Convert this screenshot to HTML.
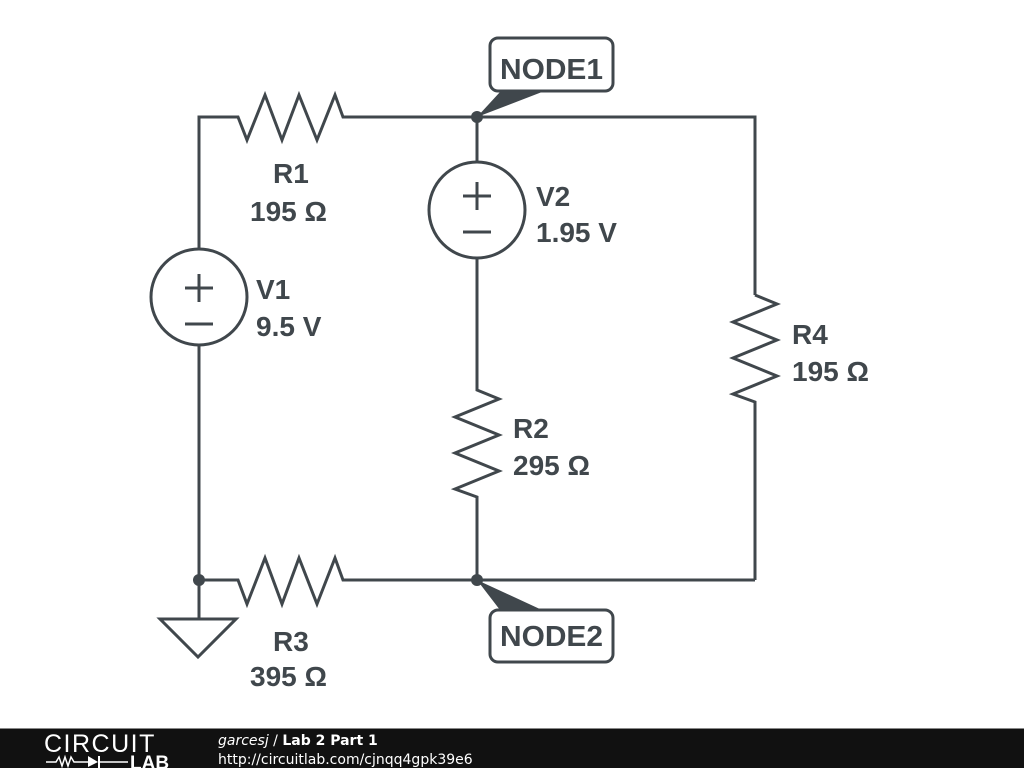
<!DOCTYPE html>
<html><head><style>
html,body{margin:0;padding:0;background:#fff;}
body{width:1024px;height:768px;overflow:hidden;position:relative;font-family:"Liberation Sans",sans-serif;}
</style></head><body>
<svg width="1024" height="768" viewBox="0 0 1024 768" style="position:absolute;left:0;top:0">
<g fill="none" stroke="#40474c" stroke-width="3" stroke-linejoin="miter">
<polyline points="199,250 199,117 238,117 247,140 265,95 282,140 299,95 317,140 335,95 343,117 755,117 755,295"/>
<polyline points="755,295 777,304 733,322 777,340 733,358 777,376 733,394 755,402 755,580"/>
<polyline points="199,346 199,580 238,580 247,604 265,558 282,604 299,558 317,604 335,558 343,580 755,580"/>
<line x1="477" y1="117" x2="477" y2="162"/>
<polyline points="477,258 477,390 499,399 455,417 499,435 455,453 499,471 455,489 477,497 477,580"/>
<circle cx="199" cy="297" r="48"/>
<circle cx="477" cy="210" r="48"/>
<line x1="199" y1="580" x2="199" y2="619"/>
<polygon points="160,619 236,619 198,657"/>
<line x1="185" y1="288" x2="213" y2="288"/><line x1="199" y1="274" x2="199" y2="302"/>
<line x1="185" y1="324" x2="213" y2="324"/>
<line x1="463" y1="196" x2="491" y2="196"/><line x1="477" y1="182" x2="477" y2="210"/>
<line x1="463" y1="232" x2="491" y2="232"/>
<rect x="490" y="38" width="123" height="53" rx="8"/>
<rect x="490" y="610" width="123" height="52" rx="8"/>
</g>
<g fill="#40474c">
<circle cx="477" cy="117" r="6"/><circle cx="199" cy="580" r="6"/><circle cx="477" cy="580" r="6"/>
<polygon points="477,117 500,92 542,92"/>
<polygon points="477,580 500,610 542,610"/>
</g>
<g fill="#40474c" font-family="Liberation Sans, sans-serif" font-weight="bold" font-size="28">
<text x="273" y="183">R1</text><text x="250" y="221">195 Ω</text>
<text x="256" y="299">V1</text><text x="256" y="336">9.5 V</text>
<text x="536" y="206">V2</text><text x="536" y="242">1.95 V</text>
<text x="792" y="344">R4</text><text x="792" y="381">195 Ω</text>
<text x="513" y="438">R2</text><text x="513" y="475">295 Ω</text>
<text x="273" y="651">R3</text><text x="250" y="686">395 Ω</text>
<text x="500" y="79" font-size="29" textLength="103" lengthAdjust="spacingAndGlyphs">NODE1</text>
<text x="500" y="646" font-size="29" textLength="103" lengthAdjust="spacingAndGlyphs">NODE2</text>
</g>
<rect x="0" y="728" width="1024" height="40" fill="#111"/>
<rect x="0" y="728" width="1024" height="1" fill="#888"/>
<text x="44" y="752" fill="#fff" font-size="25" font-family="Liberation Sans, sans-serif" letter-spacing="1.5">CIRCUIT</text>
<polyline points="46,762 56,762 59,757 62,766 65,757 68,766 71,757 74,762 88,762" fill="none" stroke="#fff" stroke-width="1.5"/>
<polygon points="88,756 98,762 88,767" fill="#fff"/><line x1="99" y1="756" x2="99" y2="768" stroke="#fff" stroke-width="2"/>
<line x1="99" y1="762" x2="128" y2="762" stroke="#fff" stroke-width="1.5"/>
<text x="130" y="769" fill="#fff" font-size="19" font-weight="bold" font-family="Liberation Sans, sans-serif">LAB</text>
<text x="218" y="745" fill="#fff" font-size="14" font-family="DejaVu Sans, sans-serif"><tspan font-style="italic">garcesj</tspan> / <tspan font-weight="bold">Lab 2 Part 1</tspan></text>
<text x="218" y="764" fill="#fff" font-size="14" font-family="DejaVu Sans, sans-serif">http://circuitlab.com/cjnqq4gpk39e6</text>
</svg>
</body></html>
